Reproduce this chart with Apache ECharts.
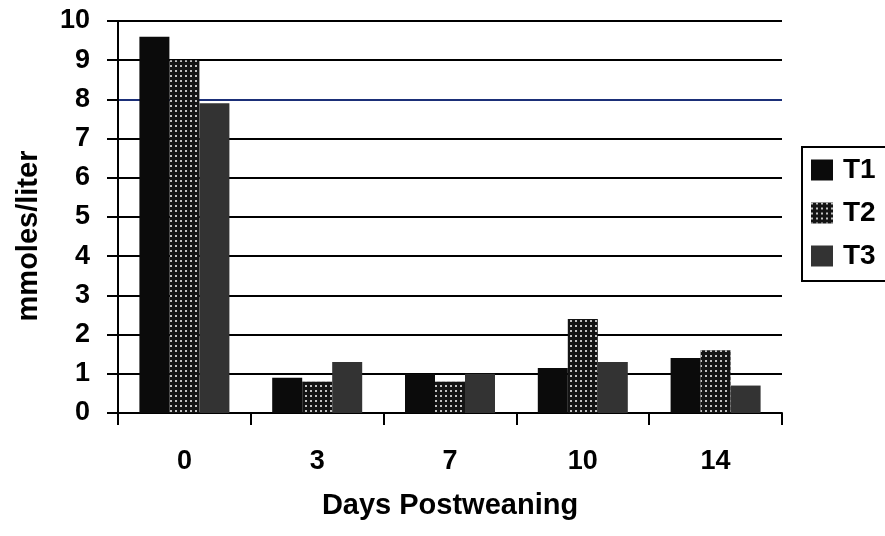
<!DOCTYPE html>
<html>
<head>
<meta charset="utf-8">
<script src="https://cdn.jsdelivr.net/npm/echarts@6/dist/echarts.min.js"></script>
<style>
  html, body { margin: 0; padding: 0; background: #fff; }
  #chart { width: 885px; height: 536px; }
</style>
</head>
<body>
<div id="chart"></div>
<script>
// Days after weaning (x categories)
const days = ['0', '3', '7', '10', '14'];
// Concentration in mmoles/liter per treatment
const t1 = [9.6, 0.9, 1.0, 1.15, 1.4];
const t2 = [9.0, 0.8, 0.8, 2.4, 1.6];
const t3 = [7.9, 1.3, 1.0, 1.3, 0.7];
const seriesNames = ['T1', 'T2', 'T3'];

const FONT = '"Liberation Sans", Arial, sans-serif';
const chart = echarts.init(document.getElementById('chart'), null, { renderer: 'canvas' });

// light dot raster used on the T2 bars
const dotted = {
  symbol: 'rect',
  symbolSize: 1,
  color: 'rgba(225,225,225,0.85)',
  dashArrayX: [2, 3],
  dashArrayY: [2, 3]
};

// gridline colours from 0 to 10; the line at 8 is a dark blue
const gridColors = ['#000', '#000', '#000', '#000', '#000', '#000', '#000', '#000', '#1b2f78', '#000', '#000'];

chart.setOption({
  backgroundColor: '#fff',
  animation: false,
  grid: { left: 118, top: 21, right: 103, bottom: 123, containLabel: false },
  legend: {
    orient: 'vertical',
    left: 802,
    top: 147,
    padding: [9, 40, 11, 9],
    itemGap: 15,
    itemWidth: 22,
    itemHeight: 21,
    icon: 'rect',
    borderColor: '#000',
    borderWidth: 2,
    data: seriesNames,
    textStyle: { fontFamily: FONT, fontWeight: 'bold', fontSize: 28, color: '#000', padding: [0, 0, 0, 5] }
  },
  xAxis: {
    type: 'category',
    data: days,
    name: 'Days Postweaning',
    nameLocation: 'middle',
    nameGap: 78,
    nameTextStyle: { fontFamily: FONT, fontWeight: 'bold', fontSize: 29, color: '#000' },
    axisLine: { lineStyle: { color: '#000', width: 2 } },
    axisTick: { show: true, length: 12, lineStyle: { color: '#000', width: 2 } },
    axisLabel: { fontFamily: FONT, fontWeight: 'bold', fontSize: 27, color: '#000', margin: 35 }
  },
  yAxis: {
    type: 'value',
    min: 0,
    max: 10,
    interval: 1,
    name: 'mmoles/liter',
    nameLocation: 'middle',
    nameGap: 75,
    nameTextStyle: { fontFamily: FONT, fontWeight: 'bold', fontSize: 29, color: '#000', padding: [0, 38, 0, 0] },
    axisLine: { show: true, lineStyle: { color: '#000', width: 2 } },
    axisTick: { show: true, length: 11, lineStyle: { color: '#000', width: 2 } },
    axisLabel: { fontFamily: FONT, fontWeight: 'bold', fontSize: 27, color: '#000', margin: 28 },
    splitLine: { show: true, lineStyle: { color: gridColors, width: 2 } }
  },
  series: [
    {
      name: 'T1', type: 'bar', data: t1, barWidth: 30, barGap: '0%',
      itemStyle: { color: '#0b0b0b' }
    },
    {
      name: 'T2', type: 'bar', data: t2, barWidth: 30, barGap: '0%',
      itemStyle: { color: '#141414', decal: dotted }
    },
    {
      name: 'T3', type: 'bar', data: t3, barWidth: 30, barGap: '0%',
      itemStyle: { color: '#333333' }
    }
  ]
});
</script>
</body>
</html>
